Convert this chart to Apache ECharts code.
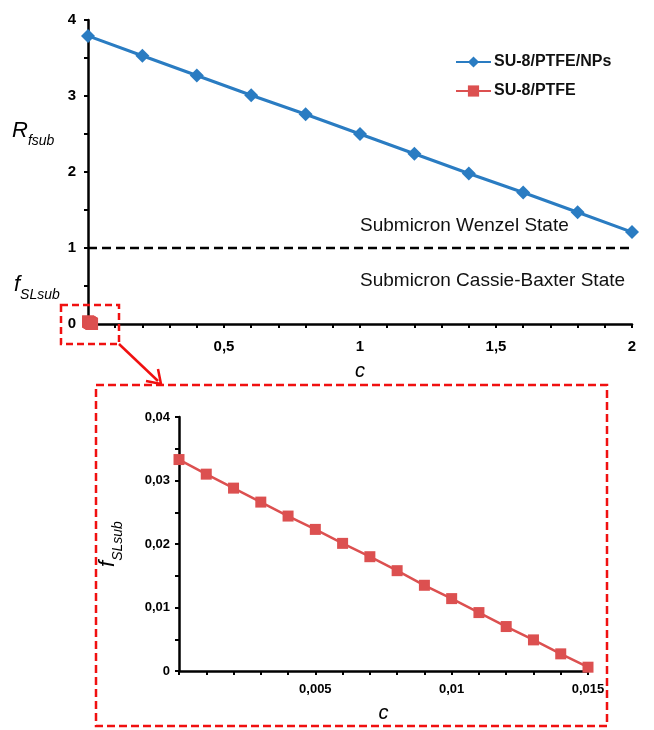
<!DOCTYPE html>
<html>
<head>
<meta charset="utf-8">
<script src="https://cdn.jsdelivr.net/npm/echarts@6/dist/echarts.min.js"></script>
<style>
  html, body { margin: 0; padding: 0; background: #fff; }
  #chart { width: 654px; height: 730px; }
</style>
</head>
<body>
<div id="chart"></div>
<script>
var myChart = echarts.init(document.getElementById('chart'));

// main plot: c from 0 to 2
var cMain = [0, 0.2, 0.4, 0.6, 0.8, 1.0, 1.2, 1.4, 1.6, 1.8, 2.0];
var rfsub = [3.79, 3.53, 3.27, 3.01, 2.76, 2.50, 2.24, 1.98, 1.73, 1.47, 1.21];

// inset plot: c from 0 to 0.015
var cInset = [0, 0.001, 0.002, 0.003, 0.004, 0.005, 0.006, 0.007,
              0.008, 0.009, 0.010, 0.011, 0.012, 0.013, 0.014, 0.015];
var fslsub = [0.0333, 0.0310, 0.0288, 0.0266, 0.0244, 0.0223, 0.0201, 0.0180,
              0.0158, 0.0135, 0.0114, 0.0092, 0.0070, 0.0049, 0.0027, 0.0006];

// Wenzel / Cassie-Baxter boundary
var thresholdC = [0, 2];
var thresholdR = [1, 1];

var blue = '#2a7cc2';
var red = '#dc5050';
var font = '"Liberation Sans", Arial, sans-serif';

function pairs(xs, ys) {
    return xs.map(function (x, i) { return [x, ys[i]]; });
}

function comma(v) {
    return String(+v.toFixed(4)).replace('.', ',');
}

var axisLine = {lineStyle: {color: '#000', width: 2.5}};
var axisTick = {show: true, length: 4, lineStyle: {color: '#000', width: 2}};
var minor = function (n) {
    return {show: true, splitNumber: n, length: 4, lineStyle: {color: '#000', width: 2}};
};
var subRich = function (big, small) {
    var r = {};
    r[big] = {fontFamily: font, fontStyle: 'italic', fontSize: 22, color: '#000', fill: '#000', lineHeight: 30};
    r[small] = {fontFamily: font, fontStyle: 'italic', fontSize: 14, color: '#000', fill: '#000', lineHeight: 34, verticalAlign: 'bottom'};
    return r;
};

myChart.setOption({
    backgroundColor: '#fff',
    animation: false,
    textStyle: {fontFamily: font},
    legend: {
        data: ['SU-8/PTFE/NPs', 'SU-8/PTFE'],
        orient: 'vertical',
        left: 455,
        top: 54,
        padding: 0,
        itemWidth: 35,
        itemHeight: 14,
        itemGap: 13,
        textStyle: {fontFamily: font, fontWeight: 'bold', fontSize: 16, color: '#111', padding: [0, 0, 0, -2]}
    },
    grid: [
        {left: 88, top: 20, width: 544, height: 304},
        {left: 179, top: 417, width: 409, height: 254}
    ],
    xAxis: [{
        gridIndex: 0,
        type: 'value',
        min: 0, max: 2, interval: 0.5,
        name: 'c',
        nameLocation: 'middle',
        nameGap: 37,
        nameTextStyle: {fontFamily: font, fontStyle: 'italic', fontSize: 20, color: '#000'},
        axisLine: axisLine,
        axisTick: axisTick,
        minorTick: minor(5),
        splitLine: {show: false},
        axisLabel: {
            margin: 15, fontSize: 15, fontWeight: 'bold', color: '#000',
            formatter: function (v) { return v === 0 ? '' : comma(v); }
        }
    }, {
        gridIndex: 1,
        type: 'value',
        min: 0, max: 0.015, interval: 0.005,
        name: 'c',
        nameLocation: 'middle',
        nameGap: 32,
        nameTextStyle: {fontFamily: font, fontStyle: 'italic', fontSize: 20, color: '#000'},
        axisLine: axisLine,
        axisTick: axisTick,
        minorTick: minor(5),
        splitLine: {show: false},
        axisLabel: {
            margin: 12, fontSize: 13, fontWeight: 'bold', color: '#000',
            formatter: function (v) { return v === 0 ? '' : comma(v); }
        }
    }],
    yAxis: [{
        gridIndex: 0,
        type: 'value',
        min: 0, max: 4, interval: 1,
        axisLine: axisLine,
        axisTick: axisTick,
        minorTick: minor(2),
        splitLine: {show: false},
        axisLabel: {
            margin: 12, fontSize: 15, fontWeight: 'bold', color: '#000',
            formatter: comma
        }
    }, {
        gridIndex: 1,
        type: 'value',
        min: 0, max: 0.04, interval: 0.01,
        name: '{f|f}{s|SLsub}',
        nameLocation: 'middle',
        nameGap: 54,
        nameRotate: 90,
        nameTextStyle: {rich: subRich('f', 's')},
        axisLine: axisLine,
        axisTick: axisTick,
        minorTick: minor(2),
        splitLine: {show: false},
        axisLabel: {
            margin: 9, fontSize: 13, fontWeight: 'bold', color: '#000',
            formatter: comma
        }
    }],
    series: [{
        name: 'threshold',
        type: 'line',
        xAxisIndex: 0, yAxisIndex: 0,
        data: pairs(thresholdC, thresholdR),
        symbol: 'none',
        lineStyle: {color: '#000', width: 2.5, type: [9, 5]},
        z: 1
    }, {
        name: 'SU-8/PTFE/NPs',
        type: 'line',
        xAxisIndex: 0, yAxisIndex: 0,
        data: pairs(cMain, rfsub),
        symbol: 'diamond',
        symbolSize: 14,
        itemStyle: {color: blue},
        lineStyle: {color: blue, width: 3},
        z: 3
    }, {
        name: 'SU-8/PTFE',
        type: 'line',
        xAxisIndex: 0, yAxisIndex: 0,
        data: pairs(cInset, fslsub),
        symbol: 'rect',
        symbolSize: 12,
        itemStyle: {color: red},
        lineStyle: {color: red, width: 3},
        z: 3
    }, {
        name: 'SU-8/PTFE',
        type: 'line',
        xAxisIndex: 1, yAxisIndex: 1,
        data: pairs(cInset, fslsub),
        symbol: 'rect',
        symbolSize: 11,
        itemStyle: {color: red},
        lineStyle: {color: red, width: 2.5},
        z: 3
    }],
    graphic: [
        {
            type: 'text', left: 12, top: 120,
            style: {text: '{r|R}{s|fsub}', rich: subRich('r', 's')}
        },
        {
            type: 'text', left: 14, top: 274,
            style: {text: '{f|f}{s|SLsub}', rich: subRich('f', 's')}
        },
        {
            type: 'text', left: 360, top: 216,
            style: {text: 'Submicron Wenzel State', fontFamily: font, fontSize: 19, fill: '#111'}
        },
        {
            type: 'text', left: 360, top: 271,
            style: {text: 'Submicron Cassie-Baxter State', fontFamily: font, fontSize: 19, fill: '#111'}
        },
        // zoom box around the origin, the arrow and the inset frame
        {
            type: 'rect', shape: {x: 61, y: 305, width: 58, height: 39},
            style: {fill: 'none', stroke: '#f01010', lineWidth: 2.5, lineDash: [7, 4]}, z: 10
        },
        {
            type: 'rect', shape: {x: 96, y: 385, width: 511, height: 341},
            style: {fill: 'none', stroke: '#f01010', lineWidth: 2.5, lineDash: [8, 4]}, z: 10
        },
        {
            type: 'line', shape: {x1: 119, y1: 344, x2: 158, y2: 381},
            style: {stroke: '#f01010', lineWidth: 2.5}, z: 10
        },
        {
            type: 'polyline', shape: {points: [[146, 381], [161, 384], [158, 369]]},
            style: {stroke: '#f01010', lineWidth: 2.5, fill: 'none'}, z: 10
        }
    ]
});
</script>
</body>
</html>
